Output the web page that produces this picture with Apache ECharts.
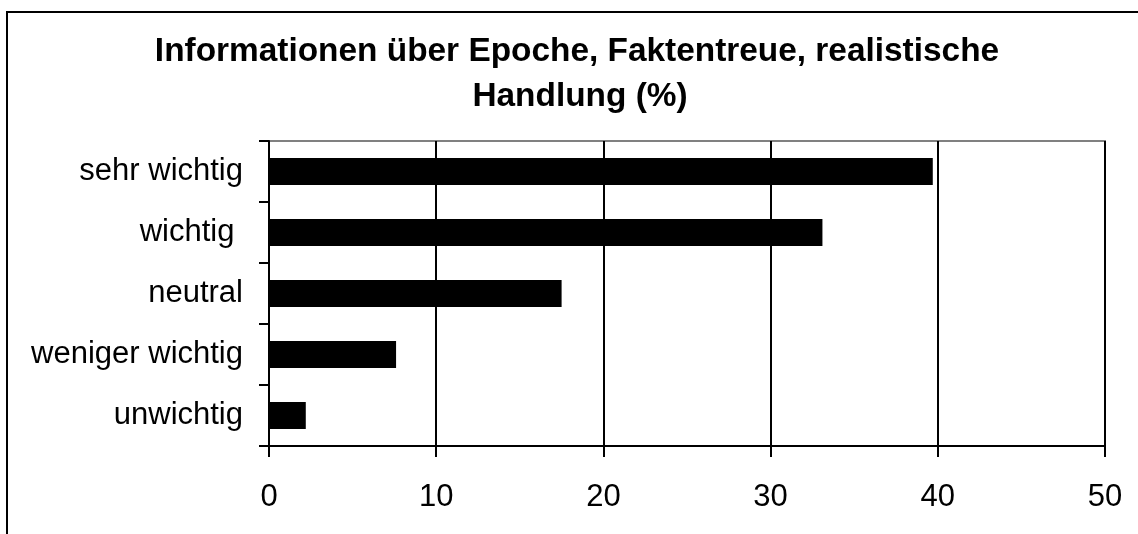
<!DOCTYPE html>
<html>
<head>
<meta charset="utf-8">
<script src="https://cdn.jsdelivr.net/npm/echarts@6/dist/echarts.min.js"></script>
<style>
html,body{margin:0;padding:0;background:#fff;}
#c{width:1138px;height:534px;}
</style>
</head>
<body>
<div id="c"></div>
<script>
const categories = ['sehr wichtig', 'wichtig ', 'neutral', 'weniger wichtig', 'unwichtig'];
const values = [39.7, 33.1, 17.5, 7.6, 2.2];
const titleLines = ['Informationen über Epoche, Faktentreue, realistische', 'Handlung (%)'];
const xMin = 0, xMax = 50, xStep = 10;

const FONT = '"Liberation Sans", Arial, sans-serif';
const chart = echarts.init(document.getElementById('c'));
chart.setOption({
  animation: false,
  backgroundColor: '#fff',
  graphic: [
    { type: 'rect', shape: { x: 7, y: 12, width: 1200, height: 600 },
      style: { fill: 'none', stroke: '#000', lineWidth: 2 }, z: 100 },
    { type: 'text', x: 577, y: 51.5,
      style: { text: titleLines[0], font: 'bold 33.4px ' + FONT, fill: '#000', textAlign: 'center', textVerticalAlign: 'middle' } },
    { type: 'text', x: 580, y: 96.5,
      style: { text: titleLines[1], font: 'bold 33.4px ' + FONT, fill: '#000', textAlign: 'center', textVerticalAlign: 'middle' } }
  ],
  grid: { left: 269, right: 33, top: 141, bottom: 88, show: true, borderColor: '#808080', borderWidth: 2, backgroundColor: '#fff' },
  xAxis: {
    type: 'value', min: xMin, max: xMax, interval: xStep,
    axisLine: { show: true, lineStyle: { color: '#000', width: 2 } },
    axisTick: { show: true, length: 11, lineStyle: { color: '#000', width: 2 } },
    axisLabel: { color: '#000', fontSize: 31, fontFamily: FONT, margin: 36 },
    splitLine: { show: true, lineStyle: { color: '#000', width: 2 } }
  },
  yAxis: {
    type: 'category', data: categories, inverse: true,
    axisLine: { show: true, lineStyle: { color: '#000', width: 2 } },
    axisTick: { show: true, length: 10, lineStyle: { color: '#000', width: 2 } },
    axisLabel: { color: '#000', fontSize: 31, fontFamily: FONT, margin: 26 },
    splitLine: { show: false }
  },
  series: [{
    type: 'bar', data: values, barWidth: 27,
    itemStyle: { color: '#000' }
  }]
});
</script>
</body>
</html>
